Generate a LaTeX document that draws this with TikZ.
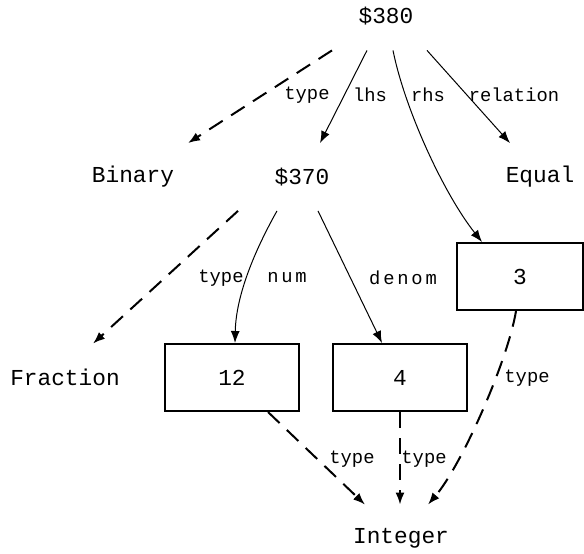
\documentclass[tikz,border=0pt]{standalone}
\usepackage{fontspec}
\setmonofont{Liberation Mono}
\newfontfamily\spacedtt[LetterSpace=15]{Liberation Mono}
\usetikzlibrary{arrows.meta}
\usetikzlibrary{positioning}

\begin{document}
\begin{tikzpicture}[x=0.5pt,y=-0.5pt,
  term/.style={inner sep=0pt, minimum height=33.5pt, font=\ttfamily\fontsize{11.4}{13}\selectfont},
  litbox/.style={term, draw, line width=1pt, minimum width=67pt},
  elabel/.style={inner sep=0pt, font=\ttfamily\fontsize{9.4}{11}\selectfont},
  rel/.style={line width=0.5pt, -{Latex[length=6pt, width=4.5pt]}},
  typ/.style={line width=1pt, dash pattern=on 8pt off 5pt, -{Latex[length=6pt, width=4.5pt]}}]
\useasboundingbox (0,0) rectangle (584,553);
% --- terms
\node[term] (n380) at (386,16.5) {\$380};
\node[term] (binary) at (133,177) {Binary};
\node[term] (n370) at (302,177) {\$370};
\node[term] (equal) at (540,177) {Equal};
\node[litbox, minimum width=63pt] (three) at (520,276.5) {3};
\node[term] (fraction) at (65,377.5) {Fraction};
\node[litbox] (twelve) at (232,377.5) {12};
\node[litbox] (four) at (400,377.5) {4};
\node[term] (integer) at (401,538.5) {Integer};

% --- edges of $380
\draw[typ] ([xshift=-27pt]n380.south) -- ([xshift=27.5pt]binary.north);
\draw[rel] ([xshift=-9.5pt]n380.south) -- ([xshift=9pt]n370.north);
\draw[rel] ([xshift=3.5pt]n380.south) .. controls (405,110) and (444,194) .. ([xshift=-19pt]three.north);
\draw[rel] ([xshift=20.5pt]n380.south) -- ([xshift=-15pt]equal.north);

\node[elabel] (ltype1) at (307,95) {type};
\node[elabel] (llhs) at (370,95) {lhs};
\node[elabel] (lrhs) at (428,95) {rhs};
\node[elabel] (lrelation) at (514,95) {relation};

% --- edges of $370
\draw[typ] ([xshift=-32pt]n370.south) -- ([xshift=14pt]fraction.north);
\draw[rel] ([xshift=-12.5pt]n370.south) .. controls (255,250) and (236,295) .. ([xshift=1.5pt]twelve.north);
\draw[rel] ([xshift=8pt]n370.south) -- ([xshift=-9pt]four.north);

\node[elabel] (ltype2) at (221,278) {type};
\node[elabel] (lnum) at (287,278) {\spacedtt num};
\node[elabel] (ldenom) at (403,278) {\spacedtt denom};

% --- types of the literals
\draw[typ] ([xshift=-2pt]three.south) .. controls (508,360) and (462,465) .. ([xshift=13.5pt]integer.north);
\draw[typ] ([xshift=18pt]twelve.south) -- ([xshift=-18pt]integer.north);
\draw[typ] (four.south) -- ([xshift=-0.5pt]integer.north);

\node[elabel] (ltype3) at (527,378) {type};
\node[elabel] (ltype4) at (352,459) {type};
\node[elabel] (ltype5) at (424,459) {type};

\end{tikzpicture}
\end{document}
